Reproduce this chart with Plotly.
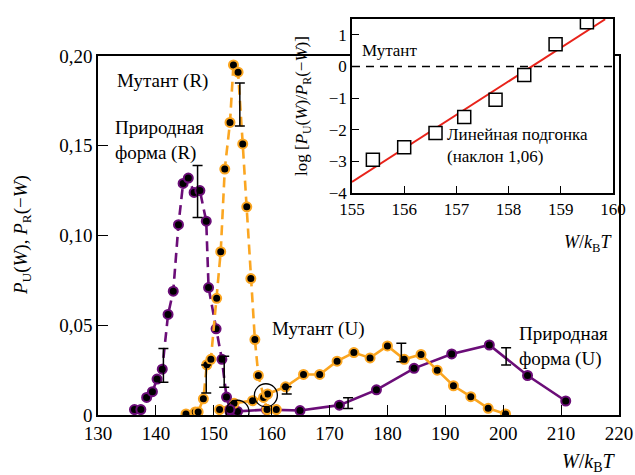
import plotly.graph_objects as go

# ---------------- data ----------------
# Wild type (R), dashed purple
wt_R_W = [136.3, 137.4, 138.4, 139.4, 140.2, 141.1, 142.1, 143.0, 143.9, 144.7, 145.6, 146.6,
          147.6, 148.7, 149.1, 150.4, 151.4, 152.2, 152.8]
wt_R_P = [0.003, 0.003, 0.0098, 0.013, 0.020, 0.0255, 0.056, 0.069, 0.106, 0.129, 0.132, 0.124,
          0.125, 0.108, 0.071, 0.048, 0.031, 0.010, 0.003]
# Mutant (R), dashed orange
mut_R_W = [145.2, 146.8, 147.3, 148.2, 148.8, 149.5, 150.5, 151.2, 151.9, 152.8, 153.4, 154.2,
           155.0, 155.7, 156.4, 157.1, 157.7, 159.2, 160.8]
mut_R_P = [0.0006, 0.0017, 0.0017, 0.009, 0.028, 0.031, 0.065, 0.091, 0.137, 0.163, 0.195, 0.191,
           0.151, 0.116, 0.076, 0.042, 0.022, 0.003, 0.003]
# Mutant (U), solid orange
mut_U_W = [151.0, 153.5, 156.7, 158.6, 159.3, 162.4, 165.5, 168.3, 171.3, 174.2, 177.0, 180.0,
           182.9, 185.8, 188.6, 191.4, 194.4, 197.4, 200.4]
mut_U_P = [0.003, 0.0065, 0.008, 0.0098, 0.0117, 0.0157, 0.0226, 0.0226, 0.030, 0.0348, 0.0318, 0.0385,
           0.031, 0.0337, 0.025, 0.0163, 0.0102, 0.0037, 0.0006]
# Wild type (U), solid purple
wt_U_W = [152.8, 154.1, 159.1, 164.9, 171.7, 178.1, 184.6, 191.1, 197.6, 204.2, 210.8]
wt_U_P = [0.002, 0.002, 0.003, 0.0025, 0.0055, 0.014, 0.026, 0.034, 0.039, 0.022, 0.0078]

# error bars (centre, half-width)
err_W = [141.3, 147.2, 154.5, 148.7, 151.8, 162.6, 173.2, 182.4, 200.5]
err_P = [0.0276, 0.1245, 0.173, 0.020, 0.0241, 0.0137, 0.0066, 0.0348, 0.0326]
err_h = [0.0094, 0.0145, 0.012, 0.0078, 0.0087, 0.002, 0.003, 0.0052, 0.0048]

# highlighted crossing points
circ_W = [154.1, 159.0]
circ_P = [0.0018, 0.011]

# inset: log ratio
ins_W = [155.4, 156.0, 156.6, 157.15, 157.75, 158.3, 158.9, 159.5]
ins_L = [-2.95, -2.55, -2.1, -1.6, -1.05, -0.27, 0.7, 1.4]
fit_W = [155.0, 159.85]
fit_L = [-3.65, -3.65 + 1.06 * 4.85]

main_xticks = [130, 140, 150, 160, 170, 180, 190, 200, 210, 220]
main_yticks = [0, 0.05, 0.10, 0.15, 0.20]
main_ytext = ["0", "0,05", "0,10", "0,15", "0,20"]
ins_xticks = [155, 156, 157, 158, 159, 160]
ins_yticks = [-4, -3, -2, -1, 0, 1]
ins_ytext = ["−4", "−3", "−2", "−1", "0", "1"]

PURPLE = "#6b0d78"
ORANGE = "#fba621"
FONT = "Liberation Serif"

fig = go.Figure()

def series(x, y, color, dash):
    fig.add_trace(go.Scatter(
        x=x, y=y, mode="lines+markers", xaxis="x", yaxis="y",
        line=dict(color=color, width=2.6, dash=dash),
        marker=dict(color="black", size=9, line=dict(color=color, width=2)),
        showlegend=False))

series(wt_U_W, wt_U_P, PURPLE, "solid")
series(mut_U_W, mut_U_P, ORANGE, "solid")
series(wt_R_W, wt_R_P, PURPLE, "10px,6px")
series(mut_R_W, mut_R_P, ORANGE, "10px,6px")

fig.add_trace(go.Scatter(
    x=err_W, y=err_P, mode="markers", xaxis="x", yaxis="y",
    marker=dict(size=1, color="rgba(0,0,0,0)"),
    error_y=dict(type="data", array=err_h, visible=True, color="black", thickness=1.5, width=5),
    showlegend=False))

fig.add_trace(go.Scatter(
    x=circ_W, y=circ_P, mode="markers", xaxis="x", yaxis="y",
    marker=dict(symbol="circle-open", size=23, color="black", line=dict(width=1.3, color="black")),
    showlegend=False))

# inset
fig.add_trace(go.Scatter(
    x=[155, 160], y=[0, 0], mode="lines", xaxis="x2", yaxis="y2",
    line=dict(color="black", width=1.5, dash="8px,6px"), showlegend=False))
fig.add_trace(go.Scatter(
    x=fit_W, y=fit_L, mode="lines", xaxis="x2", yaxis="y2",
    line=dict(color="#e8231a", width=2), showlegend=False))
fig.add_trace(go.Scatter(
    x=ins_W, y=ins_L, mode="markers", xaxis="x2", yaxis="y2",
    marker=dict(symbol="square", size=13, color="white", line=dict(color="black", width=1.5)),
    showlegend=False))

axis_common = dict(showgrid=False, zeroline=False, showline=True, linecolor="black", linewidth=1.5,
                   mirror=True, ticks="inside", tickcolor="black", tickwidth=1.2, automargin=False,
                   tickfont=dict(family=FONT, size=19, color="black"))

fig.update_layout(
    template="none",
    width=635, height=475,
    margin=dict(l=98, r=16, t=19, b=60),
    plot_bgcolor="white", paper_bgcolor="white",
    font=dict(family=FONT, color="black"),
    xaxis=dict(axis_common, domain=[0, 1], range=[130, 220], tickvals=main_xticks, ticklen=10),
    yaxis=dict(axis_common, domain=[0, 0.9066], range=[0, 0.20], tickvals=main_yticks,
               ticktext=main_ytext, ticklen=10),
    xaxis2=dict(axis_common, domain=[0.4875, 0.9885], range=[155, 160], tickvals=ins_xticks,
                anchor="y2", ticklen=7, tickfont=dict(family=FONT, size=17, color="black")),
    yaxis2=dict(axis_common, domain=[0.5606, 1], range=[-4, 1.5], tickvals=ins_yticks,
                ticktext=ins_ytext, anchor="x2", ticklen=7,
                tickfont=dict(family=FONT, size=17, color="black")),
)

def ann(text, x, y, size=19, xanchor="left", yanchor="middle", angle=0, xref="paper", yref="paper", align="left"):
    fig.add_annotation(text=text, x=x, y=y, xref=xref, yref=yref, showarrow=False,
                       xanchor=xanchor, yanchor=yanchor, textangle=angle, align=align,
                       font=dict(family=FONT, size=size, color="black"))

ann("Мутант (R)", 132.9, 0.186, xref="x", yref="y")
ann("Природная<br>форма (R)", 132.6, 0.153, xref="x", yref="y")
ann("Мутант (U)", 159.7, 0.048, xref="x", yref="y")
ann("Природная<br>форма (U)", 202.3, 0.038, xref="x", yref="y")
ann("Мутант", 155.15, 0.5, size=17, xref="x2", yref="y2")
ann("Линейная подгонка<br>(наклон 1,06)", 156.78, -2.5, size=17, xref="x2", yref="y2")

# axis titles as annotations (pixel placement converted to paper coords)
def px_x(px):
    return (px - 98) / 521.0

def px_y(py):
    return (415 - py) / 396.0

ann("<i>P</i><sub>U</sub>(<i>W</i>), <i>P</i><sub>R</sub>(−<i>W</i>)", px_x(22), px_y(235),
    size=19, xanchor="center", angle=-90)
ann("<i>W</i>/<i>k</i><sub>B</sub><i>T</i>", px_x(617), px_y(462), size=20, xanchor="right")
ann("log [<i>P</i><sub>U</sub>(<i>W</i>)/<i>P</i><sub>R</sub>(−<i>W</i>)]", px_x(303), px_y(106),
    size=17, xanchor="center", angle=-90)
ann("<i>W</i>/<i>k</i><sub>B</sub><i>T</i>", px_x(614), px_y(244), size=18, xanchor="right")

fig.write_html("out.html", config={"displayModeBar": False},
               post_script="document.body.style.margin='0px';")
